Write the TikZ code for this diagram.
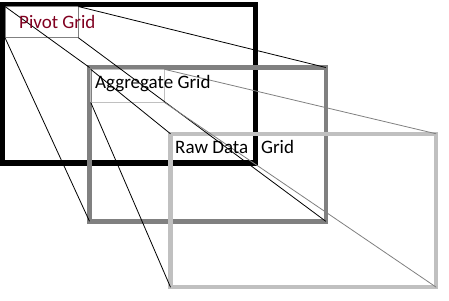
\documentclass[tikz,border=0pt]{standalone}
\usepackage{fontspec}
\setmainfont{Carlito}
\definecolor{pivotred}{RGB}{128,0,32}
\definecolor{agggray}{RGB}{128,128,128}
\definecolor{rawgray}{RGB}{192,192,192}
\tikzset{frame/.style={draw,inner sep=0pt,outer sep=0pt,line width=4.4pt},view/.style={draw,line width=1pt,inner sep=0pt,outer sep=0pt},link/.style={line width=0.8pt},lbl/.style={anchor=base west,inner sep=0pt,font=\fontsize{19}{22}\selectfont}}

\begin{document}
\begin{tikzpicture}[x=1pt,y=-1pt]
\useasboundingbox (0,0) rectangle (449,300);
% the three grids
\node[frame,line width=5.5pt,minimum width=252.8pt,minimum height=158.5pt] (pivot) at (128.9,83.75) {};
\node[frame,agggray,minimum width=236.3pt,minimum height=153.8pt] (agg) at (207.65,144.4) {};
\node[frame,rawgray,minimum width=265.7pt,minimum height=153.4pt] (raw) at (303.35,210.5) {};
% visible parts
\node[view,agggray,minimum width=73.3pt,minimum height=31.2pt] (pview) at (41.65,22.1) {};
\node[view,rawgray,minimum width=73.6pt,minimum height=33pt] (aview) at (127.5,85.8) {};
% projections
\draw[link] (pview.north west)--(agg.north west);
\draw[link] (pview.north east)--(agg.north east);
\draw[link] (pview.south west)--(agg.south west);
\draw[link] (pview.south east)--(agg.south east);
\draw[link] (aview.north west)--(raw.north west);
\draw[link,agggray] (aview.north east)--(raw.north east);
\draw[link] (aview.south west)--(raw.south west);
\draw[link,agggray] (aview.south east)--(raw.south east);
% labels
\node[lbl,pivotred] (plabel) at (19,28.3) {Pivot Grid};
\node[lbl] (alabel) at (95,88.3) {Aggregate Grid};
\node[lbl] (rlabel) at (175,153.3) {Raw Data\ \ \ Grid};
\end{tikzpicture}
\end{document}
